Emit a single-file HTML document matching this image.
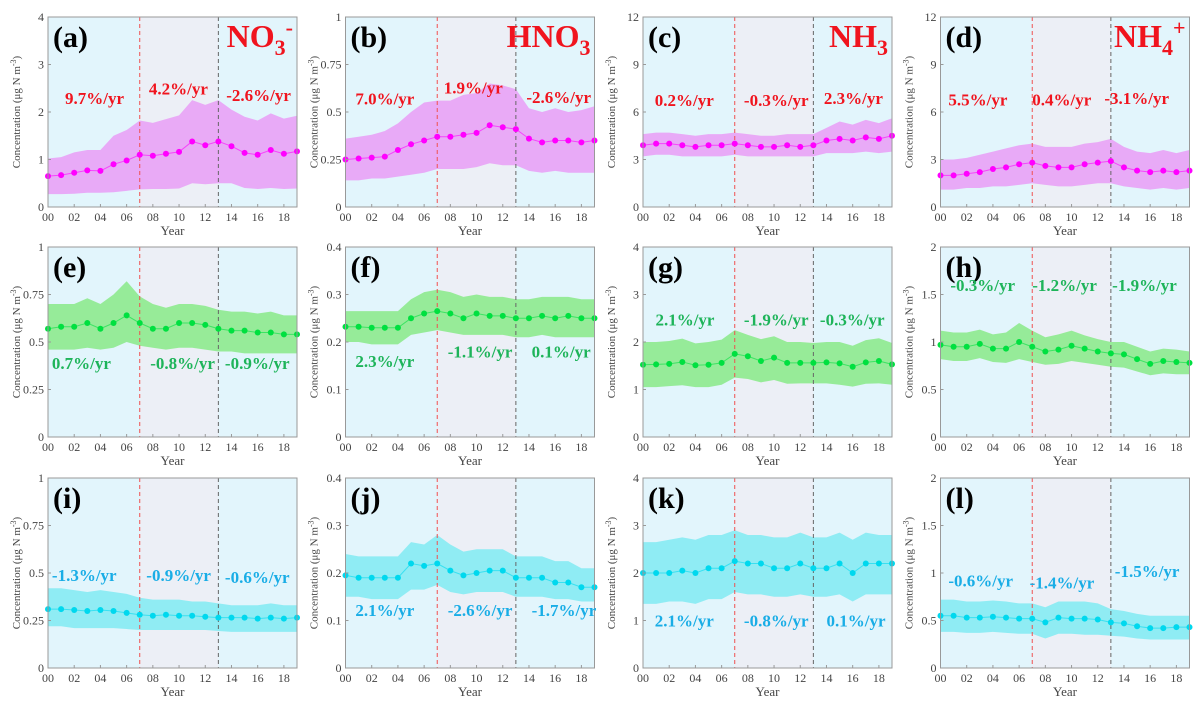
<!DOCTYPE html>
<html><head><meta charset="utf-8"><style>
body{margin:0;background:#fff;}
svg{display:block;font-family:"Liberation Serif",serif;}
</style></head><body>
<svg id="chart" width="1203" height="709"></svg>
<script>
const years=[0,1,2,3,4,5,6,7,8,9,10,11,12,13,14,15,16,17,18,19];
const xTickLabels=["00","02","04","06","08","10","12","14","16","18"];
const panelIds=["a","b","c","d","e","f","g","h","i","j","k","l"];
const meanA=[0.65,0.67,0.72,0.77,0.76,0.9,0.98,1.1,1.08,1.12,1.16,1.38,1.3,1.38,1.28,1.14,1.1,1.2,1.12,1.17];
const upA=[1.02,1.05,1.15,1.2,1.2,1.5,1.62,1.82,1.77,1.85,1.93,2.25,2.15,2.25,2.05,1.9,1.82,1.97,1.86,1.92];
const loA=[0.27,0.27,0.28,0.3,0.3,0.31,0.34,0.37,0.38,0.38,0.39,0.5,0.48,0.5,0.5,0.4,0.38,0.4,0.38,0.39];
const meanB=[0.25,0.255,0.26,0.265,0.3,0.33,0.35,0.37,0.37,0.38,0.39,0.43,0.42,0.41,0.36,0.34,0.35,0.35,0.34,0.35];
const upB=[0.36,0.37,0.38,0.4,0.44,0.5,0.55,0.56,0.56,0.59,0.6,0.65,0.64,0.62,0.52,0.5,0.52,0.5,0.51,0.53];
const loB=[0.14,0.14,0.15,0.15,0.16,0.17,0.18,0.2,0.2,0.2,0.21,0.23,0.22,0.22,0.19,0.18,0.19,0.18,0.18,0.18];
const meanC=[3.9,4.0,4.0,3.9,3.8,3.9,3.9,4.0,3.9,3.8,3.8,3.9,3.8,3.9,4.2,4.3,4.2,4.4,4.3,4.5];
const upC=[4.6,4.7,4.7,4.6,4.5,4.6,4.6,4.7,4.6,4.5,4.5,4.6,4.6,4.6,5.0,5.4,5.2,5.5,5.3,5.6];
const loC=[3.2,3.3,3.3,3.2,3.2,3.2,3.2,3.3,3.2,3.2,3.2,3.2,3.2,3.2,3.4,3.4,3.4,3.5,3.4,3.5];
const meanD=[2.0,2.0,2.1,2.2,2.4,2.5,2.7,2.8,2.6,2.5,2.5,2.7,2.8,2.9,2.5,2.3,2.2,2.3,2.2,2.3];
const upD=[3.0,3.0,3.1,3.3,3.5,3.7,3.9,4.0,3.8,3.8,3.8,4.0,4.1,4.3,3.8,3.5,3.4,3.6,3.4,3.6];
const loD=[1.1,1.1,1.2,1.2,1.3,1.3,1.4,1.5,1.4,1.3,1.3,1.4,1.5,1.5,1.3,1.2,1.1,1.2,1.1,1.2];
const meanE=[0.57,0.58,0.58,0.6,0.57,0.6,0.64,0.6,0.57,0.57,0.6,0.6,0.59,0.57,0.56,0.56,0.55,0.55,0.54,0.54];
const upE=[0.7,0.7,0.7,0.73,0.7,0.75,0.82,0.74,0.7,0.68,0.7,0.7,0.69,0.67,0.66,0.66,0.65,0.66,0.64,0.64];
const loE=[0.46,0.46,0.46,0.47,0.46,0.47,0.5,0.48,0.47,0.46,0.47,0.47,0.46,0.45,0.45,0.44,0.44,0.44,0.44,0.44];
const meanF=[0.232,0.232,0.23,0.23,0.23,0.25,0.26,0.265,0.26,0.25,0.26,0.255,0.255,0.25,0.25,0.255,0.25,0.255,0.25,0.25];
const upF=[0.265,0.265,0.265,0.265,0.265,0.29,0.305,0.31,0.305,0.295,0.3,0.295,0.295,0.29,0.29,0.295,0.295,0.295,0.29,0.29];
const loF=[0.2,0.2,0.195,0.195,0.195,0.215,0.22,0.225,0.22,0.215,0.215,0.215,0.215,0.21,0.21,0.215,0.21,0.21,0.21,0.21];
const meanG=[1.52,1.53,1.54,1.58,1.51,1.52,1.56,1.75,1.7,1.6,1.67,1.56,1.56,1.56,1.57,1.55,1.48,1.57,1.6,1.53];
const upG=[2.0,2.0,2.02,2.07,1.97,2.0,2.05,2.25,2.15,2.06,2.12,2.0,2.0,1.98,2.0,2.0,1.92,2.04,2.08,1.98];
const loG=[1.05,1.05,1.07,1.09,1.05,1.05,1.1,1.25,1.22,1.15,1.2,1.12,1.13,1.13,1.13,1.1,1.06,1.12,1.13,1.1];
const meanH=[0.97,0.95,0.95,0.98,0.93,0.93,1.0,0.95,0.9,0.92,0.96,0.93,0.9,0.88,0.87,0.82,0.77,0.8,0.79,0.78];
const upH=[1.12,1.1,1.1,1.13,1.08,1.1,1.2,1.12,1.05,1.08,1.12,1.07,1.03,1.0,1.0,0.95,0.9,0.93,0.92,0.9];
const loH=[0.82,0.8,0.8,0.83,0.79,0.78,0.82,0.79,0.76,0.77,0.8,0.78,0.76,0.74,0.73,0.69,0.65,0.67,0.66,0.66];
const meanI=[0.31,0.31,0.305,0.3,0.305,0.3,0.29,0.28,0.275,0.28,0.275,0.275,0.27,0.265,0.265,0.265,0.26,0.265,0.26,0.265];
const upI=[0.42,0.42,0.41,0.4,0.41,0.4,0.39,0.37,0.36,0.36,0.36,0.35,0.35,0.34,0.33,0.33,0.33,0.34,0.33,0.33];
const loI=[0.22,0.22,0.21,0.21,0.21,0.21,0.205,0.2,0.2,0.2,0.2,0.2,0.2,0.195,0.19,0.19,0.19,0.19,0.19,0.19];
const meanJ=[0.195,0.19,0.19,0.19,0.19,0.22,0.215,0.22,0.205,0.195,0.2,0.205,0.205,0.19,0.19,0.19,0.18,0.18,0.17,0.17];
const upJ=[0.24,0.235,0.235,0.235,0.235,0.265,0.26,0.28,0.26,0.245,0.25,0.25,0.25,0.235,0.235,0.235,0.225,0.225,0.21,0.21];
const loJ=[0.15,0.15,0.145,0.145,0.145,0.165,0.165,0.175,0.16,0.155,0.16,0.16,0.16,0.15,0.15,0.15,0.145,0.145,0.14,0.14];
const meanK=[2.0,2.0,2.0,2.05,2.0,2.1,2.1,2.25,2.2,2.2,2.1,2.1,2.2,2.1,2.1,2.2,2.0,2.2,2.2,2.2];
const upK=[2.65,2.65,2.7,2.75,2.7,2.8,2.8,2.9,2.8,2.8,2.75,2.75,2.85,2.75,2.75,2.85,2.7,2.85,2.8,2.8];
const loK=[1.35,1.35,1.4,1.4,1.35,1.45,1.45,1.6,1.55,1.55,1.5,1.5,1.55,1.5,1.5,1.55,1.4,1.55,1.55,1.55];
const meanL=[0.55,0.55,0.53,0.53,0.54,0.53,0.52,0.52,0.48,0.53,0.52,0.52,0.51,0.48,0.47,0.44,0.42,0.42,0.43,0.43];
const upL=[0.72,0.72,0.7,0.7,0.71,0.7,0.68,0.68,0.64,0.7,0.7,0.7,0.68,0.62,0.6,0.57,0.55,0.55,0.55,0.55];
const loL=[0.38,0.38,0.37,0.37,0.38,0.37,0.36,0.36,0.31,0.36,0.36,0.35,0.35,0.34,0.33,0.31,0.3,0.3,0.3,0.3];
const yTicksA=["0","1","2","3","4"];
const yTicksB=["0","0.25","0.5","0.75","1"];
const yTicksC=["0","3","6","9","12"];
const yTicksF=["0","0.1","0.2","0.3","0.4"];
const yTicksH=["0","0.5","1","1.5","2"];
const trendLabels=[
["9.7%/yr","4.2%/yr","-2.6%/yr"],["7.0%/yr","1.9%/yr","-2.6%/yr"],["0.2%/yr","-0.3%/yr","2.3%/yr"],["5.5%/yr","0.4%/yr","-3.1%/yr"],
["0.7%/yr","-0.8%/yr","-0.9%/yr"],["2.3%/yr","-1.1%/yr","0.1%/yr"],["2.1%/yr","-1.9%/yr","-0.3%/yr"],["-0.3%/yr","-1.2%/yr","-1.9%/yr"],
["-1.3%/yr","-0.9%/yr","-0.6%/yr"],["2.1%/yr","-2.6%/yr","-1.7%/yr"],["2.1%/yr","-0.8%/yr","0.1%/yr"],["-0.6%/yr","-1.4%/yr","-1.5%/yr"]];
const trendX=[[1.3,7.7,13.6],[0.75,7.5,13.8],[0.9,7.7,13.8],[0.6,7,12.5],[0.3,7.8,13.5],[0.75,7.8,14.2],[0.95,7.7,13.5],[0.75,7,13.1],[0.3,7.5,13.5],[0.75,7.8,14.2],[0.9,7.7,14],[0.6,6.8,13.3]];
const trendY=[[2.3,2.5,2.36],[0.57,0.63,0.58],[6.76,6.76,6.9],[6.8,6.8,6.9],[0.39,0.39,0.39],[0.16,0.18,0.18],[2.47,2.47,2.47],[1.6,1.6,1.6],[0.49,0.49,0.48],[0.122,0.122,0.122],[1.0,1.0,1.0],[0.92,0.9,1.02]];

const panels=[
{m:meanA,u:upA,l:loA,t:yTicksA,max:4},{m:meanB,u:upB,l:loB,t:yTicksB,max:1},{m:meanC,u:upC,l:loC,t:yTicksC,max:12},{m:meanD,u:upD,l:loD,t:yTicksC,max:12},
{m:meanE,u:upE,l:loE,t:yTicksB,max:1},{m:meanF,u:upF,l:loF,t:yTicksF,max:0.4},{m:meanG,u:upG,l:loG,t:yTicksA,max:4},{m:meanH,u:upH,l:loH,t:yTicksH,max:2},
{m:meanI,u:upI,l:loI,t:yTicksB,max:1},{m:meanJ,u:upJ,l:loJ,t:yTicksF,max:0.4},{m:meanK,u:upK,l:loK,t:yTicksA,max:4},{m:meanL,u:upL,l:loL,t:yTicksH,max:2}];
const rowStyle=[{fill:"#e9a2f6",line:"#ff00ff",text:"#f0141e"},{fill:"#8eea8e",line:"#00e040",text:"#1eb45a"},{fill:"#86ebf3",line:"#00d8ee",text:"#19ade6"}];
const colLeft=[48,345.5,643,940.5],rowTop=[17,247,478],W=249,H=190;
const NS="http://www.w3.org/2000/svg",svg=document.getElementById("chart");
function mk(tag,at,parent,txt){const e=document.createElementNS(NS,tag);for(const k in at)e.setAttribute(k,at[k]);if(txt!==undefined)e.textContent=txt;(parent||svg).appendChild(e);return e;}
const titles=[["NO","3","-",true],["HNO","3","",false],["NH","3","",false],["NH","4","+",true]];
panels.forEach((p,i)=>{
 const r=Math.floor(i/4),c=i%4,x0=colLeft[c],y0=rowTop[r],st=rowStyle[r];
 const sx=v=>x0+v/19*W, sy=v=>y0+H-v/p.max*H;
 const g=mk("g",{});
 
 
 mk("rect",{x:x0,y:y0,width:W,height:H,fill:"#e2f5fc"},g);
 mk("rect",{x:sx(7),y:y0,width:sx(13)-sx(7),height:H,fill:"#eceff6"},g);
 let d="M"+years.map((y,k)=>sx(y)+","+sy(p.u[k])).join("L");
 for(let k=years.length-1;k>=0;k--)d+="L"+sx(years[k])+","+sy(p.l[k]);
 const band=mk("path",{d:d+"Z",fill:st.fill,opacity:"0.9"},g);
 
 
 mk("line",{x1:sx(7),x2:sx(7),y1:y0,y2:y0+H,stroke:"#f05050","stroke-dasharray":"4,3","stroke-width":1},g);
 mk("line",{x1:sx(13),x2:sx(13),y1:y0,y2:y0+H,stroke:"#666","stroke-dasharray":"4,3","stroke-width":1},g);
 const ln=mk("polyline",{points:years.map((y,k)=>sx(y)+","+sy(p.m[k])).join(" "),fill:"none",stroke:st.line,"stroke-width":1,opacity:0.6},g);
 
 
 years.forEach((y,k)=>{const pt=mk("circle",{cx:sx(y),cy:sy(p.m[k]),r:3,fill:st.line},g);
  
  });
 mk("rect",{x:x0,y:y0,width:W,height:H,fill:"none",stroke:"#999","stroke-width":1},g);
 p.t.forEach((lab,k)=>{const v=p.max*k/(p.t.length-1);const yy=sy(v);
  mk("line",{x1:x0,x2:x0+3,y1:yy,y2:yy,stroke:"#999"},g);
  const t=mk("text",{x:x0-4,y:yy+4,"text-anchor":"end","font-size":12,fill:"#444"},g,lab);
  
  });
 xTickLabels.forEach((lab,k)=>{const xx=sx(k*2);
  mk("line",{x1:xx,x2:xx,y1:y0+H,y2:y0+H-3,stroke:"#999"},g);
  const t=mk("text",{x:xx,y:y0+H+14,"text-anchor":"middle","font-size":12,fill:"#444"},g,lab);
  
  });
 const xt=mk("text",{x:x0+W/2,y:y0+H+28,"text-anchor":"middle","font-size":13,fill:"#444"},g,"Year");
 
 
 const yl=mk("text",{transform:`translate(${x0-28},${y0+H/2}) rotate(-90)`,"text-anchor":"middle","font-size":11,fill:"#444"},g);
 
 
 yl.textContent="Concentration (μg N m";
 mk("tspan",{dy:-4,"font-size":8},yl,"-3");
 mk("tspan",{dy:4},yl,")");
 const pl=mk("text",{x:x0+5,y:y0+30,"font-size":30,"font-weight":"bold",fill:"#000"},g,"("+panelIds[i]+")");
 
 
 trendLabels[i].forEach((lab,k)=>{const t=mk("text",{x:sx(trendX[i][k]),y:sy(trendY[i][k])+6,"font-size":17,"font-weight":"bold",fill:st.text},g,lab);
  
  });
 if(r===0){const tt=titles[c];
  const te=mk("text",{x:x0+W-4,y:y0+30,"text-anchor":"end","font-size":32,"font-weight":"bold",fill:"#f0141e"},g);
  
  
  te.appendChild(document.createTextNode(tt[0]));
  mk("tspan",{dy:8,"font-size":22},te,tt[1]);
  if(tt[2])mk("tspan",{dy:-20,"font-size":22},te,tt[2]);}
});
</script>
</body></html>
